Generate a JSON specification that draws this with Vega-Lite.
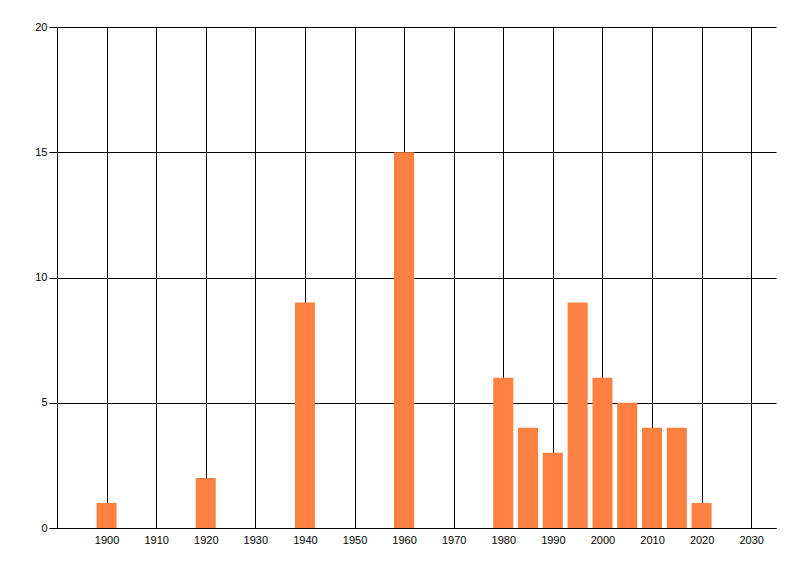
{
  "$schema": "https://vega.github.io/schema/vega-lite/v6.json",
  "width": 719,
  "height": 501,
  "autosize": {"type": "none"},
  "padding": {"left": 57, "top": 27, "right": 24, "bottom": 48},
  "background": "white",
  "config": {
    "view": {"stroke": null},
    "axis": {
      "labelFont": "Liberation Sans",
      "labelFontSize": 11,
      "labelColor": "black",
      "domainColor": "black",
      "domainWidth": 1,
      "gridColor": "black",
      "gridOpacity": 1,
      "gridWidth": 1,
      "tickColor": "black",
      "title": null
    }
  },
  "data": {
    "values": [
      {"year": 1900, "count": 1},
      {"year": 1920, "count": 2},
      {"year": 1940, "count": 9},
      {"year": 1960, "count": 15},
      {"year": 1980, "count": 6},
      {"year": 1985, "count": 4},
      {"year": 1990, "count": 3},
      {"year": 1995, "count": 9},
      {"year": 2000, "count": 6},
      {"year": 2005, "count": 5},
      {"year": 2010, "count": 4},
      {"year": 2015, "count": 4},
      {"year": 2020, "count": 1}
    ]
  },
  "mark": {"type": "bar", "width": 20, "color": "#FF8040"},
  "encoding": {
    "x": {
      "field": "year",
      "type": "quantitative",
      "scale": {"domain": [1890, 2035], "nice": false, "zero": false, "padding": 0},
      "axis": {
        "values": [1900, 1910, 1920, 1930, 1940, 1950, 1960, 1970, 1980, 1990, 2000, 2010, 2020, 2030],
        "format": "d",
        "ticks": false,
        "labelPadding": 6,
        "grid": true,
        "labelFlush": false
      }
    },
    "y": {
      "field": "count",
      "type": "quantitative",
      "scale": {"domain": [0, 20], "nice": false},
      "axis": {
        "values": [0, 5, 10, 15, 20],
        "tickSize": 8,
        "labelPadding": 2,
        "grid": true
      }
    }
  }
}
